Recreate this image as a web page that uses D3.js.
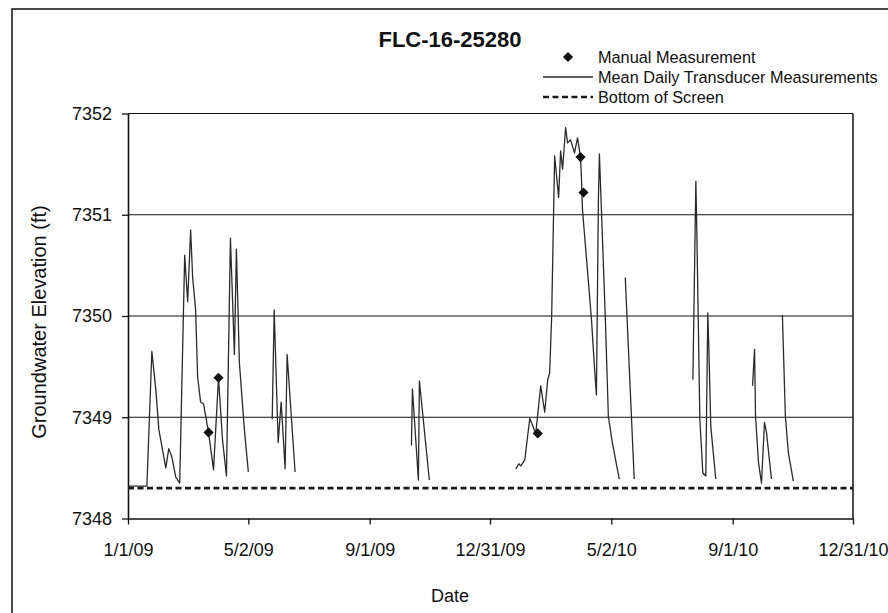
<!DOCTYPE html>
<html>
<head>
<meta charset="utf-8">
<script src="https://cdn.jsdelivr.net/npm/d3@7"></script>
<style>
  body { margin: 0; background: #fff; }
  svg { display: block; font-family: 'Liberation Sans', Arial, sans-serif; }
</style>
</head>
<body>
<svg id="chart" width="888" height="613"></svg>
<script>
// transducer record, one array per logger run (date, elevation ft)
const run2009a = [
  ['1/1/09', 7348.32], ['1/20/09', 7348.32], ['1/25/09', 7349.65], ['1/29/09', 7349.27],
  ['2/1/09', 7348.88], ['2/8/09', 7348.50], ['2/11/09', 7348.69], ['2/14/09', 7348.61],
  ['2/18/09', 7348.41], ['2/22/09', 7348.35], ['2/27/09', 7350.60], ['3/2/09', 7350.14],
  ['3/5/09', 7350.85], ['3/7/09', 7350.38], ['3/10/09', 7350.06], ['3/12/09', 7349.40],
  ['3/15/09', 7349.15], ['3/18/09', 7349.13], ['3/23/09', 7348.85], ['3/28/09', 7348.48],
  ['4/2/09', 7349.39], ['4/6/09', 7348.78], ['4/10/09', 7348.42], ['4/14/09', 7350.77],
  ['4/18/09', 7349.62], ['4/20/09', 7350.66], ['4/23/09', 7349.54], ['4/28/09', 7348.88],
  ['5/2/09', 7348.46]
];
const run2009b = [
  ['5/26/09', 7348.98], ['5/28/09', 7350.06], ['6/1/09', 7348.75], ['6/4/09', 7349.15],
  ['6/8/09', 7348.49], ['6/10/09', 7349.62], ['6/18/09', 7348.46]
];
const run2009c = [
  ['10/13/09', 7348.72], ['10/14/09', 7349.28], ['10/20/09', 7348.38],
  ['10/21/09', 7349.36], ['10/31/09', 7348.38]
];
const run2010a = [
  ['1/26/10', 7348.49], ['1/29/10', 7348.54], ['1/31/10', 7348.52], ['2/4/10', 7348.58],
  ['2/9/10', 7348.99], ['2/15/10', 7348.84], ['2/20/10', 7349.31], ['2/24/10', 7349.05],
  ['2/27/10', 7349.37], ['3/1/10', 7349.44], ['3/3/10', 7350.00], ['3/6/10', 7351.58],
  ['3/10/10', 7351.17], ['3/12/10', 7351.63], ['3/14/10', 7351.45], ['3/17/10', 7351.86],
  ['3/19/10', 7351.71], ['3/22/10', 7351.74], ['3/26/10', 7351.61], ['3/29/10', 7351.76],
  ['4/1/10', 7351.57], ['4/2/10', 7351.35], ['4/3/10', 7351.05], ['4/12/10', 7349.97],
  ['4/15/10', 7349.50], ['4/17/10', 7349.22], ['4/19/10', 7351.15], ['4/20/10', 7351.60],
  ['4/26/10', 7349.97], ['4/29/10', 7349.01], ['5/3/10', 7348.75], ['5/10/10', 7348.39]
];
const run2010b = [
  ['5/16/10', 7350.38], ['5/17/10', 7350.16], ['5/25/10', 7348.39]
];
const run2010c = [
  ['7/23/10', 7349.37], ['7/26/10', 7351.33], ['7/27/10', 7350.82], ['7/30/10', 7348.98],
  ['8/2/10', 7348.45], ['8/5/10', 7348.42], ['8/7/10', 7350.03], ['8/8/10', 7349.70],
  ['8/10/10', 7348.91], ['8/15/10', 7348.39]
];
const run2010d = [
  ['9/21/10', 7349.31], ['9/23/10', 7349.67], ['9/24/10', 7349.01], ['9/27/10', 7348.55],
  ['9/30/10', 7348.35], ['10/3/10', 7348.95], ['10/5/10', 7348.85], ['10/10/10', 7348.39]
];
const run2010e = [
  ['10/21/10', 7350.01], ['10/24/10', 7349.01], ['10/27/10', 7348.65], ['11/1/10', 7348.37]
];

const manual = [
  ['3/23/09', 7348.85], ['4/2/09', 7349.39], ['2/17/10', 7348.84],
  ['4/1/10', 7351.57], ['4/4/10', 7351.22]
];

const screenBottom = 7348.30;
const xTicks = ['1/1/09', '5/2/09', '9/1/09', '12/31/09', '5/2/10', '9/1/10', '12/31/10'];
const yTicks = [7348, 7349, 7350, 7351, 7352];
const legendLabels = ['Manual Measurement', 'Mean Daily Transducer Measurements', 'Bottom of Screen'];

const parse = d3.timeParse('%m/%d/%y');
const fmt = d3.timeFormat('%-m/%-d/%y');

const svg = d3.select('#chart');
const W = 888, H = 613;
const plot = { left: 128, right: 853, top: 113.5, bottom: 518.5 };

svg.append('rect').attr('width', W).attr('height', H).attr('fill', '#fff');
// outer chart frame (right/bottom run off the page)
svg.append('rect')
  .attr('x', 12).attr('y', 9).attr('width', 900).attr('height', 700)
  .attr('fill', 'none').attr('stroke', '#111').attr('stroke-width', 1.5);

const x = d3.scaleTime()
  .domain([parse(xTicks[0]), parse(xTicks[xTicks.length - 1])])
  .range([plot.left, plot.right]);
const y = d3.scaleLinear().domain([7348, 7352]).range([plot.bottom, plot.top]);

// gridlines
svg.append('g').selectAll('line').data(yTicks.slice(1)).join('line')
  .attr('x1', plot.left).attr('x2', plot.right)
  .attr('y1', d => y(d)).attr('y2', d => y(d))
  .attr('stroke', '#111').attr('stroke-width', 1.2);
// right border
svg.append('line')
  .attr('x1', plot.right).attr('x2', plot.right)
  .attr('y1', plot.top).attr('y2', plot.bottom)
  .attr('stroke', '#111').attr('stroke-width', 1.5);

const xAxis = svg.append('g')
  .attr('transform', `translate(0,${plot.bottom})`)
  .call(d3.axisBottom(x).tickValues(xTicks.map(parse)).tickFormat(fmt)
    .tickSize(6).tickSizeOuter(0).tickPadding(19));
const yAxis = svg.append('g')
  .attr('transform', `translate(${plot.left},0)`)
  .call(d3.axisLeft(y).tickValues(yTicks).tickFormat(d3.format('d'))
    .tickSize(6).tickSizeOuter(0).tickPadding(10));
[xAxis, yAxis].forEach(g => {
  g.select('.domain').attr('stroke', '#111').attr('stroke-width', 1.6);
  g.selectAll('.tick line').attr('stroke', '#111').attr('stroke-width', 1.3);
  g.selectAll('.tick text').attr('fill', '#111').style('font-size', '18px')
    .style('font-family', "'Liberation Sans', Arial, sans-serif");
});

// bottom of screen
svg.append('line')
  .attr('x1', x.range()[0]).attr('x2', x.range()[1])
  .attr('y1', y(screenBottom)).attr('y2', y(screenBottom))
  .attr('stroke', '#1a1a1a').attr('stroke-width', 2.6).attr('stroke-dasharray', '6,3.5');

const line = d3.line().x(d => x(parse(d[0]))).y(d => y(d[1]));
const runs = [run2009a, run2009b, run2009c, run2010a, run2010b, run2010c, run2010d, run2010e];
svg.append('g').selectAll('path').data(runs).join('path')
  .attr('d', line)
  .attr('fill', 'none').attr('stroke', '#2a2a2a').attr('stroke-width', 1.3)
  .attr('stroke-linejoin', 'round');

const diamond = d3.symbol(d3.symbolSquare, 52);
svg.append('g').selectAll('path').data(manual).join('path')
  .attr('d', diamond)
  .attr('transform', d => `translate(${x(parse(d[0]))},${y(d[1])}) rotate(45)`)
  .attr('fill', '#111');

// title and axis titles
svg.append('text').attr('x', 450).attr('y', 47)
  .attr('text-anchor', 'middle').style('font-size', '22px').style('font-weight', 'bold')
  .attr('fill', '#111').text('FLC-16-25280');
svg.append('text').attr('x', 450).attr('y', 602)
  .attr('text-anchor', 'middle').style('font-size', '18px').attr('fill', '#111').text('Date');
svg.append('text')
  .attr('transform', 'translate(46,322) rotate(-90)')
  .attr('text-anchor', 'middle').style('font-size', '20px').attr('fill', '#111')
  .text('Groundwater Elevation (ft)');

// legend
const lg = svg.append('g').attr('transform', 'translate(543,0)');
const rows = [57, 77, 97];
lg.append('path').attr('d', diamond)
  .attr('transform', `translate(25,${rows[0]}) rotate(45)`).attr('fill', '#111');
lg.append('line').attr('x1', 0).attr('x2', 50).attr('y1', rows[1]).attr('y2', rows[1])
  .attr('stroke', '#2a2a2a').attr('stroke-width', 1.3);
lg.append('line').attr('x1', 0).attr('x2', 50).attr('y1', rows[2]).attr('y2', rows[2])
  .attr('stroke', '#1a1a1a').attr('stroke-width', 2.6).attr('stroke-dasharray', '6,3.5');
lg.selectAll('text.lbl').data(legendLabels).join('text')
  .attr('class', 'lbl')
  .attr('x', 55).attr('y', (d, i) => rows[i] + 5.5)
  .style('font-size', '16.3px').attr('fill', '#111')
  .text(d => d);
</script>
</body>
</html>
